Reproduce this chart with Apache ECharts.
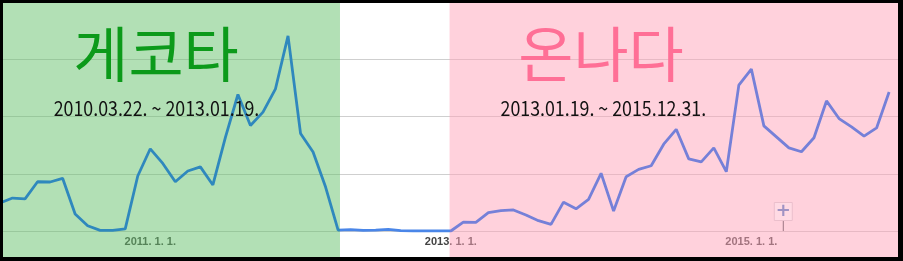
<!DOCTYPE html>
<html>
<head>
<meta charset="utf-8">
<script src="https://cdn.jsdelivr.net/npm/echarts@6/dist/echarts.min.js"></script>
<style>
html,body{margin:0;padding:0;background:#fff;}
#chart{width:903px;height:261px;}
</style>
</head>
<body>
<div id="chart"></div>
<script>
// Monthly search interest, 2010-01 .. 2015-12 (relative, 0-100)
const startYear = 2010;
const values2010 = [12.2, 14.4, 14.0, 21.5, 21.4, 23.0, 7.4, 2.3, 0.3, 0.3, 0.9, 24.0];
const values2011 = [35.9, 29.5, 21.5, 26.2, 28.0, 20.1, 40.9, 59.6, 46.1, 51.9, 62.1, 85.2];
const values2012 = [42.6, 34.5, 19.2, 0.4, 0.6, 0.3, 0.4, 0.7, 0.2, 0, 0, 0];
const values2013 = [0, 3.9, 3.8, 8.0, 8.9, 9.2, 7.0, 4.5, 2.9, 12.6, 9.7, 13.8];
const values2014 = [25.2, 8.7, 23.7, 26.9, 28.5, 37.9, 44.4, 31.5, 30.2, 36.3, 25.9, 63.7];
const values2015 = [70.7, 45.9, 41.1, 36.3, 34.6, 40.7, 56.8, 49.1, 45.5, 41.4, 45.0, 60.7];
const values = [].concat(values2010, values2011, values2012, values2013, values2014, values2015);

// categories: month labels
const categories = values.map((v, i) => {
  const y = startYear + Math.floor(i / 12), m = (i % 12) + 1;
  return y + '. ' + m + '. 1.';
});
const tickMonths = [12, 36, 60]; // 2011.1.1, 2013.1.1, 2015.1.1

// periods (in month index units)
const periodGeckota = [0, 27.15];
const periodGap = [27.15, 35.9];
const periodOnnada = [35.9, 71.71];
const titleGeckota = '게코타';
const titleOnnada = '온나다';
const rangeGeckota = '2010.03.22. ~ 2013.01.19.';
const rangeOnnada = '2013.01.19. ~ 2015.12.31.';
const newsMarker = 62.55;

const chart = echarts.init(document.getElementById('chart'), null, {renderer: 'canvas'});
const data = values.map((v, i) => [i, v]);

chart.setOption({
  animation: false,
  grid: {left: 0, right: 5, top: 2, bottom: 30, containLabel: false},
  xAxis: {
    type: 'value', min: 0, max: periodOnnada[1], interval: 12,
    axisLine: {show: false}, axisTick: {show: false}, splitLine: {show: false},
    axisLabel: {
      margin: 5, color: '#444', fontSize: 11, fontWeight: 'bold', fontFamily: 'Arial, Liberation Sans',
      showMinLabel: false, showMaxLabel: false,
      formatter: v => tickMonths.indexOf(Math.round(v)) >= 0 && Math.abs(v - Math.round(v)) < 1e-6 ? categories[Math.round(v)] : ''
    }
  },
  yAxis: {
    type: 'value', min: 0, max: 100, interval: 25,
    axisLine: {show: false}, axisTick: {show: false}, axisLabel: {show: false},
    splitLine: {lineStyle: {color: '#cfcfcf', width: 1}}
  },
  visualMap: {
    show: false, type: 'piecewise', dimension: 0, seriesIndex: 0,
    pieces: [
      {lt: periodGap[0], color: '#2f88bd'},
      {gte: periodGap[0], lt: periodOnnada[0], color: '#4a86e8'},
      {gte: periodOnnada[0], color: '#7580d8'}
    ]
  },
  series: [{
    type: 'line', data: data, symbol: 'none', smooth: false, z: 5,
    lineStyle: {width: 2.8},
    markPoint: {
      silent: true,
      data: [
        {coord: [newsMarker, 0], symbol: 'rect', symbolSize: [1, 10], symbolOffset: [0, -5],
         itemStyle: {color: '#9c7684'}, label: {show: false}},
        {coord: [newsMarker, 0], symbol: 'rect', symbolSize: [18, 18], symbolOffset: [0, -19.5],
         itemStyle: {color: 'rgba(255,225,233,0.6)', borderColor: '#ebbfcc', borderWidth: 1},
         label: {show: true, position: 'inside', formatter: '+', color: '#a093c4', fontSize: 18,
                 fontWeight: 'bold', fontFamily: 'DejaVu Sans', offset: [0, 0]}}
      ]
    }
  }]
});

// full-height period overlays, positioned through the x scale
const px = v => chart.convertToPixel({xAxisIndex: 0}, v);
const gx0 = px(periodGeckota[0]), gx1 = px(periodGeckota[1]);
const ox0 = px(periodOnnada[0]), ox1 = px(periodOnnada[1]);
const W = chart.getWidth(), H = chart.getHeight();

chart.setOption({
  graphic: [
    {id: 'ovG', type: 'rect', z: 1, silent: true, shape: {x: gx0, y: 0, width: gx1 - gx0, height: H},
     style: {fill: 'rgba(101,193,107,0.5)'}},
    {id: 'ovO', type: 'rect', z: 1, silent: true, shape: {x: ox0, y: 0, width: ox1 - ox0, height: H},
     style: {fill: 'rgba(255,163,185,0.5)'}},
    {id: 't1', type: 'text', z: 100, x: 156, y: 54,
     style: {text: titleGeckota, fill: '#0c9a1a', font: '60px "Noto Sans CJK KR"', align: 'center', verticalAlign: 'middle'}},
    {id: 't2', type: 'text', z: 100, x: 601, y: 54,
     style: {text: titleOnnada, fill: '#ff6f96', font: '60px "Noto Sans CJK KR"', align: 'center', verticalAlign: 'middle'}},
    {id: 'd1', type: 'text', z: 100, x: 156.5, y: 108.5, scaleX: 0.89,
     style: {text: rangeGeckota, fill: '#111', font: '20px "Noto Sans CJK KR"', align: 'center', verticalAlign: 'middle'}},
    {id: 'd2', type: 'text', z: 100, x: 603.3, y: 108.5, scaleX: 0.89,
     style: {text: rangeOnnada, fill: '#111', font: '20px "Noto Sans CJK KR"', align: 'center', verticalAlign: 'middle'}},
    {id: 'b1', type: 'rect', z: 200, shape: {x: 0, y: 0, width: W, height: 3}, style: {fill: '#000'}},
    {id: 'b2', type: 'rect', z: 200, shape: {x: 0, y: 0, width: 3, height: H}, style: {fill: '#000'}},
    {id: 'b3', type: 'rect', z: 200, shape: {x: W - 5, y: 0, width: 5, height: H}, style: {fill: '#000'}},
    {id: 'b4', type: 'rect', z: 200, shape: {x: 0, y: H - 4, width: W, height: 4}, style: {fill: '#000'}}
  ]
});
</script>
</body>
</html>
